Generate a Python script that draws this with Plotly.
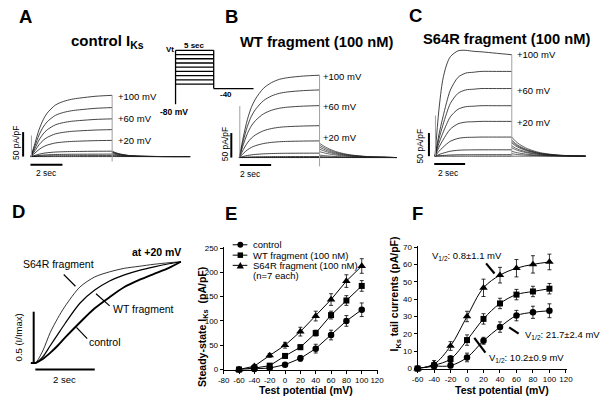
import plotly.graph_objects as go

W, H = 600, 401
FONT = "Liberation Sans, Arial, sans-serif"

# ------------------------------------------------------------------ data
TEST_V = [-60, -40, -20, 0, 20, 40, 60, 80, 100]
TRACE_LABELS = ["+100 mV", "+60 mV", "+20 mV"]

ACT_TIME = [0, 0.25, 0.5, 0.75, 1.0, 1.5, 2.0, 2.5, 3.0, 4.0, 5.0]
TAIL_TIME = [0, 0.25, 0.5, 1.0, 1.5, 2.0, 3.0, 4.0, 4.8]

# Panel A (control IKs) - steady amplitudes (pA/pF), +100 ... -60 mV
A_SHAPE = [0, 0.22, 0.44, 0.60, 0.71, 0.84, 0.90, 0.935, 0.955, 0.985, 1.0]
A_STEADY = [125, 100, 77, 55, 33, 11, 5, 2, 0]
A_TAIL = [11, 10, 9, 8, 6, 4, 2, 1, 0]
A_TAIL_SHAPE = [1, 0.7, 0.48, 0.22, 0.1, 0.05, 0.01, 0, 0]
A_ARTIFACT = [43, -10]

# Panel B (WT fragment)
B_SHAPE = [0, 0.25, 0.46, 0.61, 0.71, 0.84, 0.91, 0.95, 0.97, 0.99, 1.0]
B_STEADY = [168, 138, 106, 65, 34, 9, 2, 0.5, 0]
B_TAIL = [29, 25, 21, 17, 12, 5, 2, 0.5, 0]
B_TAIL_SHAPE = [1, 0.82, 0.66, 0.43, 0.28, 0.18, 0.07, 0.03, 0]
B_ARTIFACT = [105, -18]

# Panel C (S64R fragment)
C_SHAPE = [0, 0.25, 0.45, 0.63, 0.78, 0.93, 0.98, 0.99, 1.0, 1.0, 1.0]
C_TOP = [0, 93, 155, 186, 203, 215, 216, 214, 213, 210, 207]
C_STEADY = [207, 173, 138, 103, 71, 39, 13, 3, 0]
C_TAIL = [39, 33, 30, 27, 21, 17, 10, 5, 0]
C_TAIL_SHAPE = [1, 0.78, 0.62, 0.40, 0.26, 0.16, 0.06, 0.02, 0]
C_ARTIFACT = [83, 0]

# Panel D (normalised activation at +20 mV)
D_TIME = [-0.15, 0, 0.25, 0.5, 0.75, 1.0, 1.5, 2.0, 2.5, 3.0, 3.5, 4.0, 4.5, 4.9]
D_S64R = [0, 0, 0.12, 0.30, 0.44, 0.56, 0.75, 0.85, 0.90, 0.935, 0.955, 0.975, 0.99, 1.0]
D_WT = [0, 0, 0.06, 0.17, 0.28, 0.39, 0.59, 0.72, 0.81, 0.87, 0.915, 0.95, 0.98, 1.0]
D_CONTROL = [0, 0, 0.04, 0.10, 0.17, 0.25, 0.40, 0.54, 0.65, 0.75, 0.82, 0.88, 0.94, 1.0]

# Panel E (steady-state IKs, pA/pF)
E_CONTROL = [0, 1, 3, 10, 23, 43, 71, 100, 123]
E_CONTROL_ERR = [1, 1.5, 2, 3, 6, 9, 10, 11, 14]
E_WT = [0, 3, 8, 28, 46, 75, 112, 142, 172]
E_WT_ERR = [1, 2, 3, 4, 5, 6, 8, 10, 11]
E_S64R = [0, 7, 29, 50, 78, 110, 144, 182, 213]
E_S64R_ERR = [1.5, 3, 4, 6, 9, 10, 12, 13, 15]
E_XTICKS = [-80, -60, -40, -20, 0, 20, 40, 60, 80, 100, 120]
E_YTICKS = [0, 50, 100, 150, 200, 250]

# Panel F (tail currents, pA/pF)
F_CONTROL = [0, 1.3, 1.7, 6.4, 16, 23.9, 30.5, 32.4, 33.3]
F_CONTROL_ERR = [0.5, 1, 1.5, 2.5, 2, 3, 3, 3.5, 4]
F_WT = [0, 1.9, 5.5, 16.4, 28.6, 37.5, 42.6, 44.4, 46]
F_WT_ERR = [0.5, 1.5, 2, 3, 3, 3, 3, 3, 3]
F_S64R = [0, 2.6, 13, 30, 46.5, 53.8, 57.8, 60, 61.4]
F_S64R_ERR = [0.5, 2, 2.5, 3, 5, 4.5, 5, 5, 4.5]
F_XTICKS = [-60, -40, -20, 0, 20, 40, 60, 80, 100, 120]
F_YTICKS = [0, 10, 20, 30, 40, 50, 60, 70]

E_LEGEND = ["control", "WT fragment (100 nM)", "S64R fragment (100 nM)", "(n=7 each)"]


# ------------------------------------------------------------------ helpers
def px(x):
    return x / W


def py(y):
    return 1 - y / H


def lin(p0, v0, p1, v1, p):
    return v0 + (p - p0) * (v1 - v0) / (p1 - p0)


layout_axes = {}


def make_axes(idx, xdom, ydom, xmap, ymap, visible=False, extra_x=None, extra_y=None):
    xr = [lin(*xmap, xdom[0]), lin(*xmap, xdom[1])]
    yr = [lin(*ymap, ydom[1]), lin(*ymap, ydom[0])]
    sfx = "" if idx == 1 else str(idx)
    xa = dict(domain=[px(xdom[0]), px(xdom[1])], range=xr, anchor="y" + sfx,
              visible=visible, showgrid=False, zeroline=False, fixedrange=True)
    ya = dict(domain=[py(ydom[1]), py(ydom[0])], range=yr, anchor="x" + sfx,
              visible=visible, showgrid=False, zeroline=False, fixedrange=True)
    if extra_x:
        xa.update(extra_x)
    if extra_y:
        ya.update(extra_y)
    layout_axes["xaxis" + sfx] = xa
    layout_axes["yaxis" + sfx] = ya
    return "x" + sfx, "y" + sfx


fig = go.Figure()
shapes = []
annots = []


def line(x0, y0, x1, y1, w=1.0, color="black"):
    shapes.append(dict(type="line", xref="paper", yref="paper", x0=px(x0), y0=py(y0),
                       x1=px(x1), y1=py(y1), line=dict(color=color, width=w)))


def text(x, y, s, size, bold=False, xanchor="center", angle=0):
    if bold:
        s = "<b>" + s + "</b>"
    annots.append(dict(x=px(x), y=py(y), xref="paper", yref="paper", text=s, showarrow=False,
                       font=dict(size=size, color="black", family=FONT), xanchor=xanchor,
                       yanchor="middle", textangle=angle))


# ------------------------------------------------------------------ panels A-C
def current_panel(ax, shape, steady, tail, tail_shape, artifact, top=None):
    xa, ya = ax
    for i, amp in enumerate(steady):
        yv = [amp * s for s in shape]
        if i == 0 and top is not None:
            yv = top
        fig.add_trace(go.Scatter(x=ACT_TIME, y=yv, mode="lines", xaxis=xa, yaxis=ya,
                                 line=dict(color="#151515", width=0.8, shape="spline", smoothing=0.8),
                                 hoverinfo="skip", showlegend=False))
    for amp in tail:
        fig.add_trace(go.Scatter(x=[5 + t for t in TAIL_TIME], y=[amp * s for s in tail_shape],
                                 mode="lines", xaxis=xa, yaxis=ya,
                                 line=dict(color="#202020", width=0.7, shape="spline", smoothing=0.8),
                                 hoverinfo="skip", showlegend=False))
    top_val = top[-1] if top is not None else steady[0]
    fig.add_trace(go.Scatter(x=[ACT_TIME[0] + 0.03, ACT_TIME[0] + 0.03], y=[0, artifact[0]], mode="lines",
                             xaxis=xa, yaxis=ya, line=dict(color="#a0a0a0", width=1),
                             hoverinfo="skip", showlegend=False))
    fig.add_trace(go.Scatter(x=[ACT_TIME[-1], ACT_TIME[-1]], y=[artifact[1], top_val], mode="lines",
                             xaxis=xa, yaxis=ya, line=dict(color="#a0a0a0", width=1),
                             hoverinfo="skip", showlegend=False))


axA = make_axes(1, (12, 200), (85, 172), (25.5, 0, 108.5, 5), (156.7, 0, 131.7, 50))
axB = make_axes(2, (228, 402), (60, 172), (238.5, 0, 320.5, 5), (157.7, 0, 132.7, 50))
axC = make_axes(3, (428, 599), (40, 172), (438.5, 0, 517, 5), (156.3, 0, 131.3, 50))

current_panel(axA, A_SHAPE, A_STEADY, A_TAIL, A_TAIL_SHAPE, A_ARTIFACT)
current_panel(axB, B_SHAPE, B_STEADY, B_TAIL, B_TAIL_SHAPE, B_ARTIFACT)
current_panel(axC, C_SHAPE, C_STEADY, C_TAIL, C_TAIL_SHAPE, C_ARTIFACT, top=C_TOP)

# trace labels
for (x0, ys) in [(112, [95, 118.3, 140.7]), (321.5, [75, 105.3, 137.7]), (520.5, [52.7, 89.3, 121.7])]:
    for lab, yy in zip(TRACE_LABELS, ys):
        text(x0, yy, lab, 9.5, xanchor="left")

# scale bars A-C
for vx, vy0, vy1, hx0, hx1, hy, tx, ty, sx, sy in [
    (17.5, 131.7, 156.7, 25, 57.7, 165, 10, 142, 41, 173.5),
    (230.3, 132.7, 157.7, 239, 271, 165.3, 224, 144, 250, 174),
    (432.3, 132.7, 156.3, 437.7, 469.3, 164.3, 423.5, 146, 452, 173.5),
]:
    line(vx, vy0, vx, vy1, 2)
    line(hx0, hy, hx1, hy, 2)
    text(tx, ty, "50 pA/pF", 8.5, angle=-90)
    text(sx, sy, "2 sec", 8.5)

# titles
text(104, 39, "control I<sub>Ks</sub>", 15, bold=True)
text(318, 40, "WT fragment (100 nM)", 14.7, bold=True)
text(511.5, 37, "S64R fragment (100 nM)", 14.7, bold=True)

# protocol inset
line(173.3, 103.3, 173.3, 48.3, 1.3)
for yy in [48.3, 52.6, 56.9, 61.2, 65.5, 69.8, 74.1, 78.4, 82.7]:
    line(173.3, yy, 212.3, yy, 1.3)
line(212.3, 48.3, 212.3, 87.3, 1.3)
line(212.3, 87.3, 253, 87.3, 1.3)
text(167.5, 47.5, "Vt", 8, bold=True)
text(193, 43, "5 sec", 8, bold=True)
text(224.5, 93, "-40", 8, bold=True)
text(172, 111, "-80 mV", 8.5, bold=True)

# ------------------------------------------------------------------ panel D
axD = make_axes(4, (15, 190), (250, 372), (30, 0, 90.7, 2), (367.3, 0, 264, 1))
for yv, w in [(D_CONTROL, 1.9), (D_WT, 1.2), (D_S64R, 0.8)]:
    fig.add_trace(go.Scatter(x=D_TIME, y=yv, mode="lines", xaxis=axD[0], yaxis=axD[1],
                             line=dict(color="black", width=w, shape="spline", smoothing=0.8),
                             hoverinfo="skip", showlegend=False))
line(28.3, 315, 28.3, 368.3, 2)
line(30, 374, 90.7, 374, 2)
text(13, 341.5, "0.5 (I/Imax)", 9.5, angle=-90)
text(60, 384.5, "2 sec", 9.5)
text(54, 266.7, "S64R fragment", 10.5)
text(141, 312.7, "WT fragment", 10.5)
text(101, 345.7, "control", 10.5)
text(154, 254.3, "at +20 mV", 10.5, bold=True)
line(59, 277, 71, 289, 1.2)
line(92, 296.7, 106, 309, 1.2)
line(72, 331, 83, 342.5, 1.2)

# ------------------------------------------------------------------ panels E, F (real axes)
axis_style_x = dict(visible=True, showline=True, linecolor="black", linewidth=1, ticks="outside",
                    ticklen=3, tickwidth=1, tickcolor="black", tickangle=0,
                    tickfont=dict(size=8, family=FONT, color="black"))
axE = make_axes(5, (222.5, 380), (249, 374), (222.5, -80, 379.3, 120), (374, 0, 250, 250),
                visible=True,
                extra_x=dict(axis_style_x, tickvals=E_XTICKS, ticktext=[str(v) for v in E_XTICKS]),
                extra_y=dict(axis_style_x, tickvals=E_YTICKS, ticktext=[str(v) for v in E_YTICKS]))
axF = make_axes(6, (420.7, 573.5), (248, 373), (420.7, -60, 572.3, 120), (373, 0, 249, 70),
                visible=True,
                extra_x=dict(axis_style_x, tickvals=F_XTICKS, ticktext=[str(v) for v in F_XTICKS]),
                extra_y=dict(axis_style_x, tickvals=F_YTICKS, ticktext=[str(v) for v in F_YTICKS]))

for ax, series, lshape in [
    (axE, [(E_CONTROL, E_CONTROL_ERR, "circle", 6.5), (E_WT, E_WT_ERR, "square", 6),
           (E_S64R, E_S64R_ERR, "triangle-up", 7.5)], "linear"),
    (axF, [(F_CONTROL, F_CONTROL_ERR, "circle", 6.5), (F_WT, F_WT_ERR, "square", 6),
           (F_S64R, F_S64R_ERR, "triangle-up", 7.5)], "spline"),
]:
    for yv, err, sym, size in series:
        fig.add_trace(go.Scatter(x=TEST_V, y=yv, mode="lines+markers", xaxis=ax[0], yaxis=ax[1],
                                 line=dict(color="black", width=1, shape=lshape),
                                 marker=dict(symbol=sym, size=size, color="black"),
                                 error_y=dict(type="data", array=err, visible=True, color="black",
                                              thickness=0.8, width=2),
                                 cliponaxis=False, hoverinfo="skip", showlegend=False))

# E legend (drawn)
leg_y = [246.7, 257.3, 267.7]
for yy in leg_y:
    line(231.7, yy, 246.7, yy, 1)
shapes.append(dict(type="circle", xref="paper", yref="paper", x0=px(236.5), x1=px(242.5),
                   y0=py(249.7), y1=py(243.7), fillcolor="black", line=dict(width=0)))
shapes.append(dict(type="rect", xref="paper", yref="paper", x0=px(236.7), x1=px(242.3),
                   y0=py(260.1), y1=py(254.5), fillcolor="black", line=dict(width=0)))
shapes.append(dict(type="path", xref="paper", yref="paper",
                   path=f"M {px(235.8)},{py(270.8)} L {px(243.2)},{py(270.8)} L {px(239.5)},{py(264.2)} Z",
                   fillcolor="black", line=dict(width=0)))
for s, yy in zip(E_LEGEND, leg_y + [277.7]):
    text(250, yy, s, 9.5, xanchor="left")

# axis titles
text(202, 331, "Steady-state I<sub>Ks</sub>  (pA/pF)", 10.5, bold=True, angle=-90)
text(398, 297, "I<sub>Ks</sub> tail currents (pA/pF)", 10.5, bold=True, angle=-90)
text(306.7, 394.6, "Test potential (mV)", 10.5, bold=True)
text(506.7, 394.6, "Test potential (mV)", 10.5, bold=True)

# F annotations
text(433.3, 258.5, "V<sub>1/2</sub>: 0.8±1.1 mV", 9.5, xanchor="left")
text(528.3, 338.5, "V<sub>1/2</sub>: 21.7±2.4 mV", 9.5, xanchor="left")
text(491.7, 362.5, "V<sub>1/2</sub>: 10.2±0.9 mV", 9.5, xanchor="left")
line(490.7, 265.7, 499.3, 276, 2.2)
line(514.3, 331, 524, 337.3, 2.2)
line(478.7, 341.7, 490, 356.7, 2.2)

# panel letters
for lab, x, y in [("A", 20, 14), ("B", 230, 14), ("C", 419, 12.5), ("D", 12.5, 213),
                  ("E", 230, 214.5), ("F", 421, 214.5)]:
    text(x, y, lab, 18.5, bold=True)

fig.update_layout(width=W, height=H, margin=dict(l=0, r=0, t=0, b=0),
                  paper_bgcolor="white", plot_bgcolor="white", showlegend=False,
                  font=dict(family=FONT, color="black"),
                  shapes=shapes, annotations=annots, **layout_axes)

fig.write_html("out.html", config={"displayModeBar": False},
               post_script="document.body.style.margin='0px';document.body.style.overflow='hidden';")
